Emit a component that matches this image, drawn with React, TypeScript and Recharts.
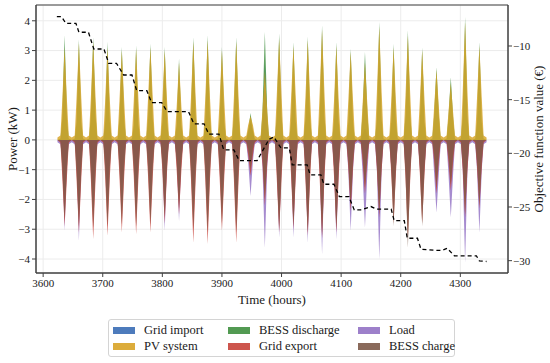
import React from "react";
import {
  ComposedChart,
  Area,
  Line,
  XAxis,
  YAxis,
  CartesianGrid,
  ReferenceArea,
} from "recharts";

// start hour of each simulated day, and the hours inside a day that are sampled
const dayStart = [
  3624, 3648, 3672, 3696, 3720, 3744, 3768, 3792, 3816, 3840, 3864, 3888, 3912,
  3936, 3960, 3984, 4008, 4032, 4056, 4080, 4104, 4128, 4152, 4176, 4200, 4224,
  4248, 4272, 4296, 4320,
];
const lastHour = 4344;
const slotHour = [0, 5, 8, 12, 16, 19];

// [night, edge of day] levels (kW)
const importBase = [0, 0];
const pvBase = [0.08, 0.15];
const dischargeBase = [0, 0.05];
const exportBase = [0, -0.1];
const loadBase = [-0.08, -0.15];
const chargeBase = [0, -0.05];

// noon peaks (kW)
const importNoon = [0, 0, 0, 0, 0, 0, 0, 0, 0, 0, 0, 0, 0, 0.6, 2.6, 0, 0, 0, 0, 0, 0, 0.4, 0, 0, 0, 0, 0, 0, 0, 0];
const pvNoon = [3.1, 3.25, 3.3, 3.1, 3.0, 3.05, 3.1, 3.0, 2.6, 3.3, 3.35, 3.0, 3.3, 0.8, 2.3, 3.4, 3.15, 3.35, 3.7, 3.15, 2.95, 2.6, 3.8, 3.1, 3.5, 3.0, 2.35, 1.9, 3.95, 3.15];
const dischargeNoon = [3.51, 3.37, 3.45, 3.3, 3.12, 3.17, 3.23, 3.12, 2.73, 3.45, 3.51, 3.12, 3.45, 0.9, 3.62, 3.57, 3.29, 3.47, 3.85, 3.29, 3.06, 2.95, 3.96, 3.23, 3.68, 3.1, 2.44, 2.1, 4.13, 3.29];
const exportNoon = [-2.9, -3.1, -3.33, -3.22, -3.11, -3.17, -3.11, -2.8, -2.5, -3.45, -3.5, -3.05, -3.45, -1.2, -2.2, -3.1, -3.0, -3.2, -3.3, -3.1, -2.4, -1.8, -2.6, -2.8, -3.3, -2.8, -1.8, -1.7, -2.6, -2.3];
const loadNoon = [-3.05, -3.39, -1.6, -1.6, -1.5, -1.6, -1.6, -3.05, -2.72, -1.8, -1.8, -1.6, -1.8, -1.88, -3.62, -3.28, -3.28, -3.45, -3.84, -3.33, -3.05, -2.94, -4.0, -2.0, -2.2, -2.0, -2.44, -2.6, -4.12, -3.11];
const chargeNoon = [-2.7, -2.9, -2.95, -2.9, -2.85, -2.9, -2.85, -2.6, -2.3, -3.0, -3.1, -2.8, -3.1, -1.0, -2.0, -3.0, -2.9, -3.1, -3.2, -3.0, -2.2, -1.6, -2.5, -2.9, -3.62, -2.9, -1.6, -1.5, -2.5, -2.2];

// morning / afternoon shoulders (kW)
const importMid = [0, 0, 0, 0, 0, 0, 0, 0, 0, 0, 0, 0, 0, 0.3, 0.5, 0, 0, 0, 0, 0, 0, 0.2, 0, 0, 0, 0, 0, 0, 0, 0];
const pvMid = [1.3, 1.4, 1.4, 1.3, 1.3, 1.3, 1.4, 1.3, 1.1, 1.4, 1.4, 1.3, 1.4, 0.5, 1.0, 1.5, 1.4, 1.4, 1.6, 1.3, 1.3, 1.2, 1.6, 1.3, 1.5, 1.3, 1.1, 0.9, 1.6, 1.4];
const dischargeMid = [0.7, 0.6, 0.8, 0.6, 0.7, 0.5, 0.7, 0.6, 0.5, 0.8, 0.7, 0.6, 0.8, 0.3, 0.9, 0.8, 0.6, 0.7, 0.8, 0.6, 0.6, 0.9, 0.7, 0.6, 0.8, 0.6, 0.8, 0.7, 0.8, 0.6];
const exportMid = [-1.2, -1.3, -1.3, -1.2, -1.2, -1.2, -1.2, -1.0, -1.0, -1.3, -1.3, -1.2, -1.3, -0.5, -0.8, -1.3, -1.2, -1.3, -1.3, -1.2, -0.9, -0.7, -1.0, -1.1, -1.3, -1.1, -0.7, -0.7, -1.0, -0.9];
const loadMid = [-0.6, -0.6, -0.5, -0.5, -0.5, -0.5, -0.5, -0.6, -0.6, -0.5, -0.5, -0.5, -0.6, -0.7, -0.9, -0.8, -0.8, -0.8, -0.9, -0.9, -1.0, -1.1, -1.0, -0.9, -0.9, -0.9, -1.1, -1.1, -1.0, -1.0];
const chargeMid = [-0.9, -1.0, -1.0, -0.9, -0.9, -0.9, -0.9, -0.8, -0.7, -1.0, -1.0, -0.9, -1.0, -0.3, -0.6, -1.0, -0.9, -1.0, -1.0, -0.9, -0.7, -0.5, -0.8, -0.9, -1.1, -0.9, -0.5, -0.5, -0.8, -0.7];

// objective function (€), step corners
const objHour = [3623, 3631, 3638, 3655, 3660, 3676, 3685, 3702, 3710, 3723, 3735, 3749, 3757, 3774, 3782, 3799, 3808, 3844, 3853, 3870, 3878, 3895, 3903, 3920, 3929, 3959, 3979, 3987, 3999, 4013, 4018, 4043, 4048, 4066, 4071, 4088, 4097, 4113, 4122, 4134, 4150, 4159, 4184, 4189, 4206, 4211, 4228, 4234, 4261, 4270, 4278, 4290, 4327, 4332, 4344];
const objValue = [-7.27, -7.27, -7.89, -7.89, -8.72, -8.72, -10.28, -10.28, -11.61, -11.61, -12.7, -12.7, -14.16, -14.16, -15.28, -15.28, -16.12, -16.12, -17.26, -17.26, -18.22, -18.22, -19.68, -19.68, -20.68, -20.68, -18.69, -18.47, -19.5, -19.5, -21.08, -21.08, -22.01, -22.01, -22.88, -22.88, -24.03, -24.03, -25.27, -25.27, -24.96, -25.2, -25.2, -26.27, -26.27, -27.91, -27.91, -28.93, -29.04, -29.04, -28.84, -29.55, -29.55, -30.02, -30.08];

const xTicks = [3600, 3700, 3800, 3900, 4000, 4100, 4200, 4300];
const powerTicks = [-4, -3, -2, -1, 0, 1, 2, 3, 4];
const objTicks = [-30, -25, -20, -15, -10];

const series = [
  { key: "import", name: "Grid import", color: "#3a6db5", base: importBase, mid: importMid, noon: importNoon },
  { key: "discharge", name: "BESS discharge", color: "#3f8f3f", base: dischargeBase, mid: dischargeMid, noon: dischargeNoon },
  { key: "pv", name: "PV system", color: "#d8a326", base: pvBase, mid: pvMid, noon: pvNoon },
  { key: "load", name: "Load", color: "#9272c4", base: loadBase, mid: loadMid, noon: loadNoon },
  { key: "export", name: "Grid export", color: "#c8433a", base: exportBase, mid: exportMid, noon: exportNoon },
  { key: "charge", name: "BESS charge", color: "#7d5a49", base: chargeBase, mid: chargeMid, noon: chargeNoon },
];

const legendOrder = ["import", "pv", "discharge", "export", "load", "charge"];

const pick = (s: (typeof series)[number], d: number, slot: number) => {
  if (slot === 0) return s.base[0];
  if (slot === 1 || slot === 5) return s.base[1];
  if (slot === 3) return s.noon[d];
  return s.mid[d];
};

const rows: Record<string, number>[] = [];
dayStart.forEach((h0, d) => {
  slotHour.forEach((sh, slot) => {
    const row: Record<string, number> = { t: h0 + sh };
    series.forEach((s) => (row[s.key] = pick(s, d, slot)));
    rows.push(row);
  });
});
const lastRow: Record<string, number> = { t: lastHour };
series.forEach((s) => (lastRow[s.key] = s.base[0]));
rows.push(lastRow);
objHour.forEach((h, i) => rows.push({ t: h, obj: objValue[i] }));
rows.sort((a, b) => a.t - b.t);

const FONT = "'Liberation Serif', 'DejaVu Serif', serif";
const minus = (v: number) => String(v).replace("-", "\u2212");

export default function App() {
  return (
    <div
      style={{
        position: "absolute",
        left: 0,
        top: 0,
        width: 550,
        height: 363,
        background: "#fff",
        fontFamily: FONT,
      }}
    >
      <ComposedChart
        width={550}
        height={312}
        data={rows}
        margin={{ top: 5, right: 0, bottom: 0, left: 0 }}
      >
        <CartesianGrid stroke="#ececec" yAxisId="left" />
        <XAxis
          dataKey="t"
          type="number"
          domain={[3588, 4380]}
          ticks={xTicks}
          allowDataOverflow
          height={39}
          tickSize={4}
          tickMargin={2}
          stroke="#404040"
          tick={{ fontSize: 11, fill: "#1a1a1a", fontFamily: FONT }}
          label={{
            value: "Time (hours)",
            position: "insideBottom",
            offset: 8,
            fontSize: 13,
            fill: "#1a1a1a",
            fontFamily: FONT,
          }}
        />
        <YAxis
          yAxisId="left"
          type="number"
          domain={[-4.47, 4.53]}
          ticks={powerTicks}
          allowDataOverflow
          width={36}
          tickSize={4}
          tickMargin={2}
          stroke="#404040"
          tickFormatter={minus}
          tick={{ fontSize: 11, fill: "#1a1a1a", fontFamily: FONT }}
          label={{
            value: "Power (kW)",
            angle: -90,
            position: "center",
            dx: -6,
            fontSize: 13,
            fill: "#1a1a1a",
            fontFamily: FONT,
          }}
        />
        <YAxis
          yAxisId="right"
          orientation="right"
          type="number"
          domain={[-31.15, -6.18]}
          ticks={objTicks}
          allowDataOverflow
          width={42}
          tickSize={4}
          tickMargin={1}
          stroke="#404040"
          tickFormatter={minus}
          tick={{ fontSize: 11, fill: "#1a1a1a", fontFamily: FONT }}
          label={{
            value: "Objective function value (€)",
            angle: -90,
            position: "center",
            dx: 9,
            fontSize: 13,
            fill: "#1a1a1a",
            fontFamily: FONT,
          }}
        />
        {series.map((s) => (
          <Area
            key={s.key}
            yAxisId="left"
            type="linear"
            dataKey={s.key}
            name={s.name}
            baseValue={0}
            stroke="none"
            fill={s.color}
            fillOpacity={0.82}
            connectNulls
            dot={false}
            activeDot={false}
            isAnimationActive={false}
          />
        ))}
        <Line
          yAxisId="right"
          type="linear"
          dataKey="obj"
          stroke="#000"
          strokeWidth={1.3}
          strokeDasharray="4 3"
          dot={false}
          activeDot={false}
          connectNulls
          isAnimationActive={false}
        />
        <ReferenceArea
          yAxisId="left"
          x1={3588}
          x2={4380}
          y1={-4.47}
          y2={4.53}
          fill="none"
          stroke="#404040"
          strokeWidth={1}
          ifOverflow="visible"
        />
      </ComposedChart>
      <div
        style={{
          position: "absolute",
          left: 108,
          top: 319,
          width: 347,
          height: 38,
          border: "1px solid #d4d4d4",
          borderRadius: 3,
          boxSizing: "border-box",
          fontSize: 12.5,
          color: "#1a1a1a",
        }}
      >
        {legendOrder.map((k, i) => {
          const s = series.find((x) => x.key === k)!;
          const col = Math.floor(i / 2);
          const row = i % 2;
          const lefts = [4, 119, 249];
          return (
            <div
              key={k}
              style={{
                position: "absolute",
                left: lefts[col],
                top: 2 + row * 16.5,
                height: 16,
                display: "flex",
                alignItems: "center",
                whiteSpace: "nowrap",
              }}
            >
              <span
                style={{
                  display: "inline-block",
                  width: 22,
                  height: 7,
                  background: s.color,
                  opacity: 0.9,
                  marginRight: 9,
                }}
              />
              {s.name}
            </div>
          );
        })}
      </div>
    </div>
  );
}
